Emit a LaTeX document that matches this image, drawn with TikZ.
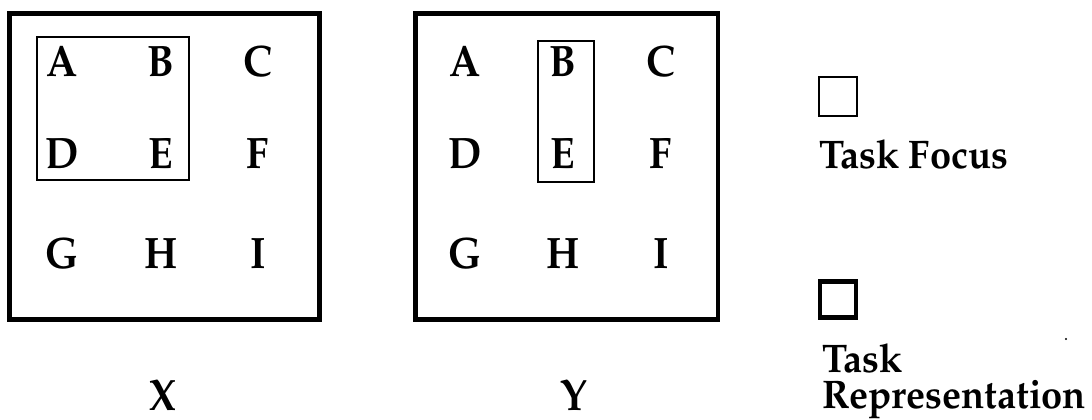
\documentclass[tikz,border=0pt]{standalone}
\usepackage[T1]{fontenc}
\usepackage{graphicx}
\renewcommand{\rmdefault}{ppl}
\newcommand{\panelchar}[1]{\scalebox{1}[1.1]{#1}}
\newcommand{\legword}[1]{\scalebox{1}[1.05]{#1}}
\begin{document}
\begin{tikzpicture}[x=1pt,y=-1pt,
  reprbox/.style={draw,line width=4.8pt},
  focusbox/.style={draw,line width=2.4pt},
  letter/.style={inner sep=0pt,anchor=base,font=\fontsize{40}{46}\selectfont\bfseries},
  legtext/.style={inner sep=0pt,anchor=base west,font=\fontsize{38}{44}\selectfont\bfseries}]
\useasboundingbox (0,0) rectangle (1092,420);
% panel X
\draw[reprbox] (9.5,13.5) rectangle (319.5,319.5);
\draw[focusbox] (37,37) rectangle (189,180);
\node[letter] (xa) at (62,77) {\panelchar{A}};
\node[letter] (xb) at (161,77) {\panelchar{B}};
\node[letter] (xc) at (258,77) {\panelchar{C}};
\node[letter] (xd) at (62,168) {\panelchar{D}};
\node[letter] (xe) at (161,168) {\panelchar{E}};
\node[letter] (xf) at (258,168) {\panelchar{F}};
\node[letter] (xg) at (62,268) {\panelchar{G}};
\node[letter] (xh) at (161,268) {\panelchar{H}};
\node[letter] (xi) at (258,268) {\panelchar{I}};
\node[letter] (xl) at (163,410) {\panelchar{X}};
% panel Y
\draw[reprbox] (415.5,13.5) rectangle (718,319.5);
\draw[focusbox] (538,41) rectangle (594,182);
\node[letter] (ya) at (465,77) {\panelchar{A}};
\node[letter] (yb) at (563,77) {\panelchar{B}};
\node[letter] (yc) at (661,77) {\panelchar{C}};
\node[letter] (yd) at (465,168) {\panelchar{D}};
\node[letter] (ye) at (563,168) {\panelchar{E}};
\node[letter] (yf) at (661,168) {\panelchar{F}};
\node[letter] (yg) at (465,268) {\panelchar{G}};
\node[letter] (yh) at (563,268) {\panelchar{H}};
\node[letter] (yi) at (661,268) {\panelchar{I}};
\node[letter] (yl) at (574,410) {\panelchar{Y}};
% legend
\draw[focusbox] (819,77) rectangle (857,116);
\node[legtext] (tf) at (819,168) {\legword{Task Focus}};
\draw[reprbox] (820,281.5) rectangle (856,317.5);
\node[legtext] (tr1) at (822,372) {\legword{Task}};
\node[legtext] (tr2) at (822,408) {\legword{Representation}};
\fill (1066,339) circle (1.2);
\end{tikzpicture}
\end{document}
